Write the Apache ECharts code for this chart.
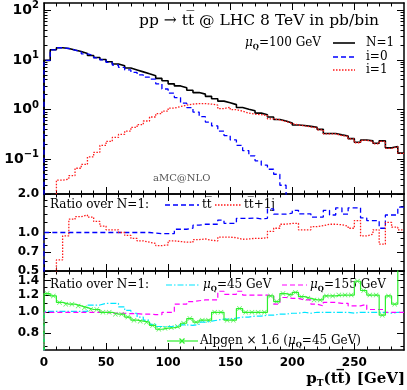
<!DOCTYPE html>
<html>
<head>
<meta charset="utf-8">
<script src="https://cdn.jsdelivr.net/npm/echarts@6/dist/echarts.min.js"></script>
<style>
  html, body { margin: 0; padding: 0; background: #fff; }
  #chart { width: 407px; height: 390px; }
</style>
</head>
<body>
<div id="chart"></div>
<script>
// bin edges in GeV (5 GeV bins)
const binEdges = [0,5,10,15,20,25,30,35,40,45,50,55,60,65,70,75,80,85,90,95,100,105,110,115,120,125,130,135,140,145,150,155,160,165,170,175,180,185,190,195,200,205,210,215,220,225,230,235,240,245,250,255,260,265,270,275,280,285,290]

// top panel, pb/bin
const xsecN1 = [9.8,16.0,17.6,17.0,15.8,14.8,13.5,12.3,11.2,10.2,9.2,8.3,7.6,6.9,6.3,5.75,5.25,4.8,4.25,3.8,3.3,3.0,2.75,2.45,2.2,2.05,1.85,1.65,1.48,1.38,1.26,1.10,1.02,0.95,0.85,0.79,0.71,0.63,0.59,0.54,0.49,0.48,0.46,0.44,0.40,0.33,0.33,0.31,0.295,0.26,0.22,0.245,0.235,0.21,0.235,0.17,0.18,0.133]
const xsecI0 = [9.8,16.0,17.6,17.0,15.8,14.6,13.3,12.2,11.0,10.0,8.9,7.9,7.1,6.3,5.6,5.0,4.5,4.1,3.3,2.6,2.15,1.75,1.35,1.10,0.89,0.72,0.56,0.47,0.37,0.30,0.245,0.19,0.15,0.117,0.093,0.076,0.063,0.050,0.030,0.01]
const xsecI1 = [0.01,0.01,0.038,0.040,0.047,0.066,0.079,0.112,0.138,0.19,0.23,0.275,0.316,0.37,0.44,0.50,0.59,0.71,0.83,0.93,1.07,1.15,1.23,1.29,1.32,1.32,1.29,1.23,1.05,1.12,1.0,0.93,0.85,0.81,0.79,0.76,0.65,0.62,0.575,0.525,0.49,0.47,0.45,0.43,0.39,0.325,0.325,0.30,0.29,0.257,0.215,0.24,0.23,0.205,0.23,0.166,0.178,0.132]

// middle panel, ratio over N=1
const ratioTT = [1.0,1.0,1.0,1.0,1.0,1.0,1.0,1.0,1.0,1.0,1.0,1.0,1.0,1.0,1.0,1.0,1.0,0.99,0.98,0.98,0.98,1.06,1.06,1.08,1.14,1.16,1.16,1.16,1.25,1.18,1.18,1.29,1.29,1.30,1.28,1.29,1.53,1.39,1.39,1.42,1.49,1.40,1.40,1.32,1.32,1.49,1.37,1.56,1.39,1.56,1.56,1.30,1.24,1.24,1.08,1.37,1.37,1.58]
const ratioTTJ = [0.3,0.3,0.61,0.94,1.27,1.33,1.37,1.32,1.22,1.12,1.05,1.05,1.00,0.95,0.90,0.86,0.84,0.82,0.79,0.80,0.86,0.85,0.84,0.84,0.88,0.89,0.87,0.86,0.92,0.92,0.91,0.885,0.89,0.90,0.90,0.91,1.02,1.08,1.16,1.18,1.18,1.05,1.05,1.11,1.13,1.16,1.16,1.15,1.12,1.08,1.24,0.94,0.97,1.05,0.81,1.20,1.10,1.05]

// bottom panel, ratio over N=1
const ratioMu45 = [1.01,1.01,1.01,1.01,1.01,1.01,1.01,1.08,1.08,1.10,1.10,1.10,1.06,1.02,0.99,0.95,0.92,0.88,0.86,0.86,0.86,0.875,0.875,0.87,0.88,0.90,0.91,0.92,0.93,0.93,0.94,0.95,0.95,0.96,0.96,0.97,0.97,0.98,0.98,0.99,0.99,1.0,0.99,1.0,1.0,1.0,1.0,1.0,1.0,0.99,1.0,1.0,1.0,1.0,1.0,0.99,1.0,1.0]
const ratioMu155 = [1.0,1.0,1.0,1.0,1.0,1.0,1.0,1.0,1.0,1.0,0.99,0.99,0.99,0.985,0.985,0.98,0.98,0.975,0.975,1.0,1.0,1.09,1.09,1.12,1.13,1.14,1.14,1.14,1.25,1.21,1.21,1.25,1.20,1.20,1.20,1.20,1.19,1.09,1.17,1.16,1.16,1.14,1.14,1.09,1.07,1.11,1.11,1.10,1.10,1.07,1.07,1.09,1.03,1.03,1.03,1.0,1.0,1.0]
const alpgen = [1.22,1.19,1.11,1.09,1.09,1.07,1.05,1.03,1.03,1.0,1.0,0.98,0.98,0.95,0.92,0.91,0.90,0.87,0.835,0.845,0.85,0.86,0.89,0.935,0.90,0.92,0.92,1.0,1.0,0.92,0.92,1.04,1.0,1.0,1.0,1.0,1.19,1.12,1.22,1.20,1.235,1.18,1.16,1.14,1.14,1.19,1.19,1.20,1.20,1.20,1.39,1.26,1.20,1.20,0.97,1.19,1.09,1.6]

// ticks
const xMajor = [0,50,100,150,200,250]
const xMinor = [10,20,30,40,60,70,80,90,110,120,130,140,160,170,180,190,210,220,230,240,260,270,280]
const topMajor = [0.1,1,10,100]
const topMinor = [0.03,0.04,0.05,0.06,0.07,0.08,0.09,0.2,0.3,0.4,0.5,0.6,0.7,0.8,0.9,2,3,4,5,6,7,8,9,20,30,40,50,60,70,80,90]
const midMajor = [0.5,0.7,1.0,2.0]
const midMinor = [0.6,0.8,0.9,1.2,1.4,1.6,1.8]
const botMajor = [0.8,1.0,1.2,1.4]
const botMinor = [0.7,0.9,1.1,1.3,1.5]

const lg = v => Math.log10(v)

// histogram as step line, points at left bin edges (log10 space)
function steps (vals, fromBelow) {
  let pts = []
  if (fromBelow) pts.push([binEdges[0], -3])
  vals.forEach((v, i) => pts.push([binEdges[i], lg(v)]))
  pts.push([binEdges[vals.length], lg(vals[vals.length - 1])])
  return pts
}

const frame = { color: '#000', width: 1.5 }
const tickFont = { fontFamily: 'DejaVu Sans', fontWeight: 'bold', color: '#000' }

function makeAxes (dim, gi, min, max, major, minor, label) {
  let sides = dim === 'x' ? ['bottom', 'top'] : ['left', 'right']
  let conv = dim === 'x' ? (v => v) : lg
  let list = []
  sides.forEach((pos, s) => {
    list.push({
      type: 'value', gridIndex: gi, position: pos, min: min, max: max,
      axisLine: { onZero: false, lineStyle: frame },
      axisTick: { inside: true, length: 7, customValues: major.map(conv), lineStyle: { color: '#000', width: 1 } },
      axisLabel: (s === 0 && label) ? Object.assign({ customValues: major.map(conv) }, label) : { show: false },
      splitLine: { show: false }
    })
    list.push({
      type: 'value', gridIndex: gi, position: pos, min: min, max: max,
      axisLine: { show: false, onZero: false },
      axisTick: { inside: true, length: 3.5, customValues: minor.map(conv), lineStyle: { color: '#000', width: 1 } },
      axisLabel: { show: false },
      splitLine: { show: false }
    })
  })
  return list
}

const xLabel = Object.assign({ fontSize: 12, margin: 7 }, tickFont)
const ratioLabel = Object.assign({ fontSize: 12, margin: 5, formatter: v => Math.pow(10, v).toFixed(1) }, tickFont)
const powLabel = {
  margin: 5,
  formatter: v => {
    let e = Math.round(v)
    return '{b|10}{s|' + (e < 0 ? '\u2212' + (-e) : e) + '}'
  },
  rich: {
    b: { fontFamily: 'DejaVu Sans', fontWeight: 'bold', fontSize: 14, lineHeight: 19, color: '#000' },
    s: { fontFamily: 'DejaVu Sans', fontWeight: 'bold', fontSize: 10, lineHeight: 11, verticalAlign: 'top', color: '#000' }
  }
}

let xAxis = [].concat(
  makeAxes('x', 0, 0, 290, xMajor, xMinor, null),
  makeAxes('x', 1, 0, 290, xMajor, xMinor, null),
  makeAxes('x', 2, 0, 290, xMajor, xMinor, xLabel)
)
let yAxis = [].concat(
  makeAxes('y', 0, lg(0.02), lg(140), topMajor, topMinor, powLabel),
  makeAxes('y', 1, lg(0.5), lg(2.0), midMajor, midMinor, ratioLabel),
  makeAxes('y', 2, lg(0.67), lg(1.55), botMajor, botMinor, ratioLabel)
)

function histSeries (gi, vals, color, dash, width, fromBelow) {
  return {
    type: 'line', xAxisIndex: gi * 4, yAxisIndex: gi * 4,
    data: steps(vals, fromBelow), step: 'end', symbol: 'none', clip: true,
    lineStyle: { color: color, width: width, type: dash },
    animation: false, silent: true
  }
}

const cBlue = '#0000ff', cRed = '#ff1a1a', cCyan = '#00e5ff', cMag = '#ff00ff', cGreen = '#2ef02e'
const dashed = [5, 3], dotted = [1.5, 1.5], dashDot = [6, 2, 1.5, 2]
const xMark = 'path://M0,1L1,0L5,4L9,0L10,1L6,5L10,9L9,10L5,6L1,10L0,9L4,5Z'

let series = [
  histSeries(0, xsecN1, '#000', 'solid', 1.6, true),
  histSeries(0, xsecI0, cBlue, dashed, 1.3, true),
  histSeries(0, xsecI1, cRed, dotted, 1.3, false),
  histSeries(1, ratioTT, cBlue, dashed, 1.3, true),
  histSeries(1, ratioTTJ, cRed, dotted, 1.3, false),
  histSeries(2, ratioMu45, cCyan, dashDot, 1.2, true),
  histSeries(2, ratioMu155, cMag, dashed, 1.2, true),
  histSeries(2, alpgen, cGreen, 'solid', 1.2, true),
  {
    type: 'scatter', xAxisIndex: 8, yAxisIndex: 8, clip: true, silent: true, animation: false,
    symbol: xMark, symbolSize: 5, itemStyle: { color: cGreen },
    data: alpgen.map((v, i) => [binEdges[i] + 2.5, lg(v)])
  }
]

const serif = '"DejaVu Serif"'
function txt (x, y, text, font, extra) {
  return {
    type: 'text', x: x, y: y, silent: true,
    style: Object.assign({ text: text, font: font, fill: '#000', align: 'left', verticalAlign: 'middle', textAlign: 'left', textVerticalAlign: 'middle' }, extra || {})
  }
}
function seg (x1, y1, x2, y2, color, dash, width) {
  return { type: 'line', silent: true, shape: { x1: x1, y1: y1, x2: x2, y2: y2 }, style: { stroke: color, lineWidth: width, lineDash: dash } }
}
const muRich = {
  m: { fontFamily: 'DejaVu Serif', fontStyle: 'italic', fontSize: 12, lineHeight: 16 },
  n: { fontFamily: 'DejaVu Serif', fontSize: 12, lineHeight: 16 },
  q: { fontFamily: 'DejaVu Serif', fontWeight: 'bold', fontSize: 7, lineHeight: 10, verticalAlign: 'bottom' }
}

let graphic = [
  txt(139, 21, 'pp \u2192 tt\u0305 @ LHC 8 TeV in pb/bin', '15.5px ' + serif),
  txt(245, 43, '{m|\u03bc}{q|Q}{n|=100 GeV}', '12px ' + serif, { rich: muRich }),
  seg(333, 43, 355, 43, '#000', null, 1.6),
  seg(333, 57, 355, 57, cBlue, dashed, 1.3),
  seg(333, 70, 355, 70, cRed, dotted, 1.3),
  txt(366, 43, 'N=1', '12px ' + serif),
  txt(366, 57, 'i=0', '12px ' + serif),
  txt(366, 70, 'i=1', '12px ' + serif),
  txt(153, 178, 'aMC@NLO', '10px ' + serif, { fill: '#555' }),

  txt(50, 205, 'Ratio over N=1:', '12px ' + serif),
  seg(165, 205, 199, 205, cBlue, dashed, 1.3),
  txt(202, 205, 'tt\u0305', '12px ' + serif),
  seg(215, 205, 241, 205, cRed, dotted, 1.3),
  txt(244, 205, 'tt\u0305+1j', '12px ' + serif),

  txt(50, 285, 'Ratio over N=1:', '12px ' + serif),
  seg(166, 285, 200, 285, cCyan, dashDot, 1.2),
  txt(203, 285, '{m|\u03bc}{q|Q}{n|=45 GeV}', '12px ' + serif, { rich: muRich }),
  seg(282, 285, 307, 285, cMag, dashed, 1.2),
  txt(310, 285, '{m|\u03bc}{q|Q}{n|=155 GeV}', '12px ' + serif, { rich: muRich }),

  seg(167, 341, 198, 341, cGreen, null, 1.2),
  seg(179.5, 338.5, 184.5, 343.5, cGreen, null, 1.2),
  seg(184.5, 338.5, 179.5, 343.5, cGreen, null, 1.2),
  txt(200, 341, '{n|Alpgen \u00d7 1.6 (}{m|\u03bc}{q|Q}{n|=45 GeV)}', '12px ' + serif, { rich: muRich }),

  txt(405, 379, '{p|p}{t|T}{p|(tt\u0305) [GeV]}', 'bold 15px ' + serif, {
    align: 'right', textAlign: 'right',
    rich: {
      p: { fontFamily: 'DejaVu Serif', fontWeight: 'bold', fontSize: 15, lineHeight: 18 },
      t: { fontFamily: 'DejaVu Serif', fontWeight: 'bold', fontSize: 9, lineHeight: 12, verticalAlign: 'bottom' }
    }
  })
]

let option = {
  animation: false,
  grid: [
    { left: 44, width: 360, top: 3, height: 191 },
    { left: 44, width: 360, top: 194, height: 77 },
    { left: 44, width: 360, top: 271, height: 79 }
  ],
  xAxis: xAxis,
  yAxis: yAxis,
  series: series,
  graphic: graphic
}

let chart = echarts.init(document.getElementById('chart'))
chart.setOption(option)
</script>
</body>
</html>
